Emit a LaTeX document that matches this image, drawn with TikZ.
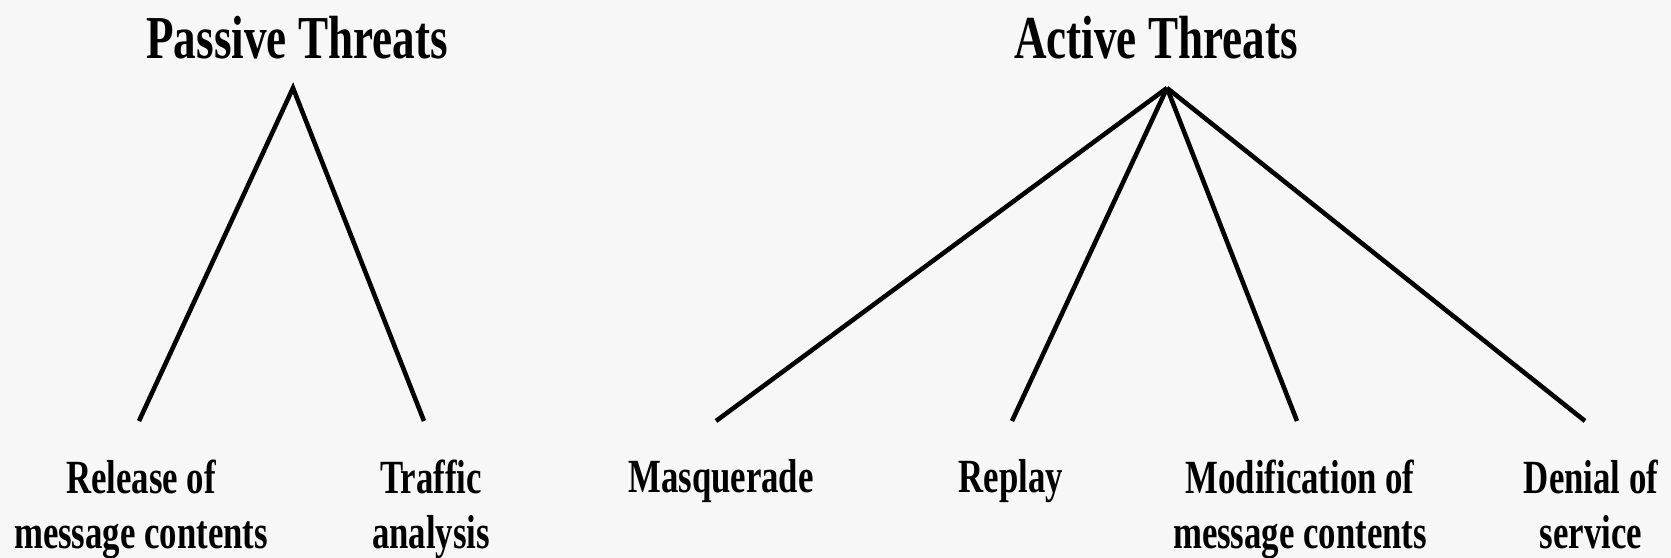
\documentclass[tikz,border=0pt]{standalone}
\usepackage{fontspec}
\setmainfont{Liberation Serif}
\usepackage{xcolor}
\definecolor{bggray}{RGB}{247,247,247}

\begin{document}
\begin{tikzpicture}[x=0.02cm, y=0.02cm, line width=2.6pt,
    title/.style={anchor=base, inner sep=0pt, xscale=0.74, font=\fontsize{34.7}{40}\selectfont\bfseries},
    leaf/.style={anchor=base, inner sep=0pt, align=center, xscale=0.73, font=\fontsize{27.1}{31.3}\selectfont\bfseries}]
    % Canvas
    \fill [bggray] (0,0) rectangle (1671,558);
    \useasboundingbox (0,0) rectangle (1671,558);

    % Headings
    \node [title] (passive) at (297,499) {Passive Threats};
    \node [title] (active) at (1156,499) {Active Threats};

    % Top points of the two trees
    \coordinate (pasTop) at (293,470);
    \coordinate (actTop) at (1167,470);

    % Leaf ends
    \coordinate (relEnd) at (139,137);
    \coordinate (trfEnd) at (424,137);
    \coordinate (masEnd) at (716,137);
    \coordinate (repEnd) at (1012,137);
    \coordinate (modEnd) at (1297,137);
    \coordinate (denEnd) at (1585,137);

    % Leaf labels (two-line ones sit on their last baseline)
    \node [leaf] (release) at (141,10) {Release of\\message contents};
    \node [leaf] (traffic) at (431,10) {Traffic\\analysis};
    \node [leaf] (masq) at (721,65) {Masquerade};
    \node [leaf] (replay) at (1011,65) {Replay};
    \node [leaf] (modif) at (1300,10) {Modification of\\message contents};
    \node [leaf] (denial) at (1591,10) {Denial of\\service};

    % Passive tree
    \draw (relEnd) -- (pasTop) -- (trfEnd);

    % Active tree
    \foreach \e in {masEnd, repEnd, modEnd, denEnd}
        \draw (actTop) -- (\e);
\end{tikzpicture}
\end{document}
